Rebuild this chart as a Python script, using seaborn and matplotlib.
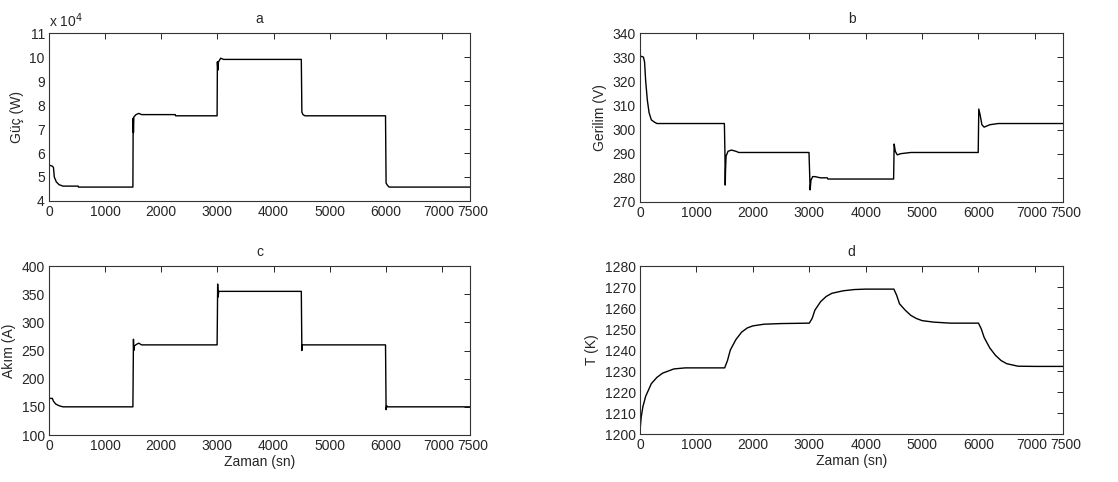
import numpy as np
import pandas as pd
import matplotlib
matplotlib.use('Agg')
import matplotlib.pyplot as plt
import matplotlib.transforms as mtrans
import seaborn as sns

# ---------------------------------------------------------------
# data (time in s)
# ---------------------------------------------------------------

guc_t = [0, 60, 80, 95, 130, 180, 250, 520, 525, 1495, 1500, 1505, 1512, 1550, 1600,
         1650, 2250, 2255, 2995, 3000, 3008, 3020, 3060, 3110, 4495, 4505, 4525, 4560,
         5995, 6005, 6030, 6060, 7500]
guc_v = [5.5, 5.45, 5.4, 5.0, 4.8, 4.68, 4.62, 4.62, 4.58, 4.58, 7.45, 6.85, 7.5, 7.6, 7.65,
         7.6, 7.6, 7.55, 7.55, 9.8, 9.45, 9.8, 9.95, 9.9, 9.9, 7.7, 7.6, 7.55,
         7.55, 4.75, 4.65, 4.58, 4.58]          # x 10^4 W

gerilim_t = [0, 60, 80, 100, 130, 160, 200, 260, 300, 1495, 1505, 1510, 1515, 1525, 1560,
             1620, 1700, 1750, 2995, 3005, 3015, 3030, 3060, 3100, 3200, 3320, 3330, 4495,
             4505, 4525, 4560, 4620, 4800, 5995, 6005, 6030, 6060, 6100, 6200, 6350, 7500]
gerilim_v = [330.5, 330, 328, 320, 312, 307, 304, 303, 302.5, 302.5, 290, 277, 283, 289, 291,
             291.5, 291, 290.5, 290.5, 283, 275, 279, 280.5, 280.5, 280, 280, 279.5, 279.5,
             294, 291, 289.5, 290, 290.5, 290.5, 308.5, 306, 302, 301, 302, 302.5, 302.5]

akim_t = [0, 60, 80, 120, 180, 250, 1495, 1500, 1505, 1510, 1520, 1560, 1600, 1650, 2995,
          3000, 3005, 3012, 3025, 4495, 4500, 4505, 4510, 5995, 6000, 6005, 6015, 6030, 7500]
akim_v = [165, 165, 160, 155, 152, 150, 150, 210, 270, 250, 258, 261, 263, 260, 260,
          310, 368, 345, 355, 355, 300, 250, 260, 260, 205, 145, 152, 150, 150]

sicaklik_t = [0, 20, 50, 100, 150, 200, 300, 400, 500, 600, 800, 1500, 1550, 1600, 1700,
              1800, 1900, 2000, 2200, 2500, 3000, 3050, 3100, 3200, 3300, 3400, 3600, 3800,
              4000, 4500, 4550, 4600, 4700, 4800, 4900, 5000, 5200, 5500, 6000, 6050, 6100,
              6200, 6300, 6400, 6500, 6700, 7000, 7500]
sicaklik_v = [1202, 1208, 1213, 1218, 1221, 1224, 1227, 1229, 1230, 1231, 1231.5, 1231.5,
              1235, 1240, 1245, 1248.5, 1250.5, 1251.5, 1252.3, 1252.6, 1252.8, 1255, 1259,
              1263, 1265.5, 1267, 1268.2, 1268.8, 1269, 1269, 1266, 1262, 1259, 1256.5, 1255,
              1254, 1253.3, 1252.8, 1252.8, 1250, 1246, 1241, 1237.5, 1235, 1233.5, 1232.3,
              1232.2, 1232.2]

x_ticks = [0, 1000, 2000, 3000, 4000, 5000, 6000, 7000, 7500]

# ---------------------------------------------------------------
# style (MATLAB-like boxed axes)
# ---------------------------------------------------------------

sns.set_style('white')
plt.rcParams['font.family'] = ['Liberation Sans', 'DejaVu Sans']
FS = 10
TXT = '#262626'

fig = plt.figure(figsize=(11.18, 4.82), dpi=100)

panels = [
    # (rect, t, v, title, ylabel, yticks, show xlabel)
    ([0.0438, 0.583, 0.3766, 0.3485], guc_t, guc_v, 'a', 'Güç (W)', list(range(4, 12)), False),
    ([0.5725, 0.581, 0.3784, 0.3505], gerilim_t, gerilim_v, 'b', 'Gerilim (V)', list(range(270, 341, 10)), False),
    ([0.0438, 0.0975, 0.3766, 0.3506], akim_t, akim_v, 'c', 'Akım (A)', list(range(100, 401, 50)), True),
    ([0.5725, 0.0995, 0.3784, 0.3486], sicaklik_t, sicaklik_v, 'd', 'T (K)', list(range(1200, 1281, 10)), True),
]

for rect, t, v, title, ylab, yticks, show_x in panels:
    ax = fig.add_axes(rect)
    df = pd.DataFrame({'t': t, 'v': v})
    sns.lineplot(data=df, x='t', y='v', ax=ax, color='black', linewidth=1.0,
                 estimator=None, sort=False)
    ax.set_xlim(0, 7500)
    ax.set_ylim(yticks[0], yticks[-1])
    ax.set_xticks(x_ticks)
    ax.set_yticks(yticks)
    ax.tick_params(direction='in', top=True, right=True, length=4, width=0.7,
                   labelsize=FS, colors=TXT, pad=3)
    for s in ax.spines.values():
        s.set_color('#333333')
        s.set_linewidth(0.8)
    ax.set_title(title, fontsize=FS, color=TXT, pad=7)
    ax.set_ylabel(ylab, fontsize=FS, color=TXT, labelpad=4)
    ax.set_xlabel('Zaman (sn)' if show_x else '', fontsize=FS, color=TXT, labelpad=1)

    # push "7000" and "7500" apart a little so they don't run together
    labels = ax.get_xticklabels()
    for lab, dx in ((labels[-2], -3), (labels[-1], 3)):
        lab.set_transform(lab.get_transform() +
                          mtrans.ScaledTranslation(dx / 100, 0, fig.dpi_scale_trans))

    if title == 'a':
        ax.text(0.0, 1.02, r'x 10$^4$', transform=ax.transAxes, fontsize=FS,
                color=TXT, ha='left', va='bottom')

fig.savefig('out.png', dpi=100)
